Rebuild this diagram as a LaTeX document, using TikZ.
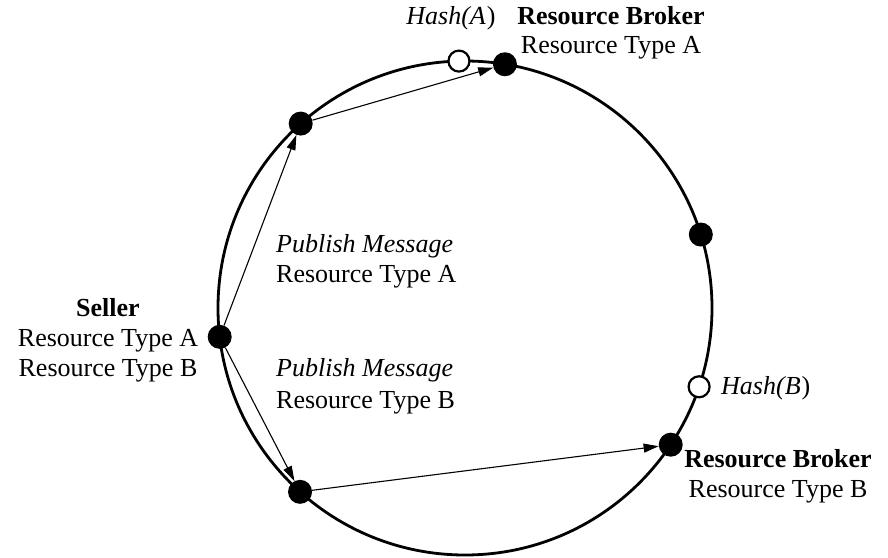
\documentclass[tikz,border=0pt]{standalone}
\usepackage{fontspec}
\setmainfont{Liberation Serif}
\usetikzlibrary{arrows.meta,calc}
\begin{document}
\begin{tikzpicture}[x=1pt,y=1pt,
  dot/.style={circle,fill=black,minimum size=24pt,inner sep=0pt},
  hashdot/.style={circle,draw=black,fill=white,line width=2.2pt,minimum size=21pt,inner sep=0pt},
  ring/.style={line width=2.8pt},
  msg/.style={line width=1.1pt,-{Triangle[length=15pt,width=9pt]}},
  lbl/.style={anchor=base,inner sep=0pt,font=\fontsize{26}{30}\selectfont},
  lblL/.style={anchor=base west,inner sep=0pt,font=\fontsize{26}{30}\selectfont}]
\useasboundingbox (0,0) rectangle (888,557);
\coordinate (c) at (465,249);
\draw[ring] (c) circle[radius=247];
\node[hashdot] (ha) at ($(c)+(91.4:247)$) {};
\node[dot] (ba) at ($(c)+(80.7:247)$) {};
\node[dot] (ul) at ($(c)+(131.7:247)$) {};
\node[dot] (rt) at ($(c)+(17.3:247)$) {};
\node[dot] (sel) at ($(c)+(186.7:247)$) {};
\node[hashdot] (hb) at ($(c)+(-18.6:247)$) {};
\node[dot] (bb) at ($(c)+(-33.6:247)$) {};
\node[dot] (ll) at ($(c)+(228.1:247)$) {};
\draw[msg] (sel) -- (ul);
\draw[msg] (ul) -- (ba);
\draw[msg] (sel) -- (ll);
\draw[msg] (ll) -- (bb);
% labels
\node[lbl] (haL) at (451,532) {\textit{Hash(A}\kern1pt)};
\node[lbl] (baL1) at (611,532) {\textbf{Resource Broker}};
\node[lbl] (baL2) at (611,503) {Resource Type A};
\node[lbl] (selL1) at (108,240) {\textbf{Seller}};
\node[lbl] (selL2) at (108,210) {Resource Type A};
\node[lbl] (selL3) at (108,180) {Resource Type B};
\node[lblL] (pmA1) at (276,304) {\textit{Publish Message}};
\node[lblL] (pmA2) at (276,274) {Resource Type A};
\node[lblL] (pmB1) at (276,180) {\textit{Publish Message}};
\node[lblL] (pmB2) at (276,149) {Resource Type B};
\node[lblL] (hbL) at (721,163) {\textit{Hash(B}\kern1pt)};
\node[lbl] (bbL1) at (778,90) {\textbf{Resource Broker}};
\node[lbl] (bbL2) at (778,60) {Resource Type B};
\end{tikzpicture}
\end{document}
